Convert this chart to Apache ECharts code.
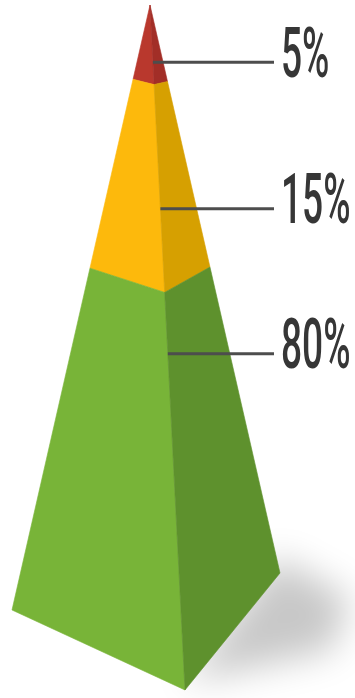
<!DOCTYPE html>
<html>
<head>
<meta charset="utf-8">
<script src="https://cdn.jsdelivr.net/npm/echarts@6/dist/echarts.min.js"></script>
<style>
html,body{margin:0;padding:0;background:#ffffff;}
#chart{width:355px;height:698px;}
</style>
</head>
<body>
<div id="chart"></div>
<script>
// ---- data ----
const tierNames = ['Top', 'Middle', 'Base'];
const tierValues = [5, 15, 80];
// where each tier ends along the pyramid's height (0 = apex, 100 = base), as drawn in the picture
const tierDepthEnd = [12.5, 44, 100];
// where each leader line meets the pyramid's front edge (same height scale)
const leaderDepth = [9, 31.5, 53];

// ---- scene / style ----
const SCENE_W = 355, SCENE_H = 698;
const apex = { x: 150, y: 5, w: 1 };
const cornerL = { x: 12, y: 610, w: 0.98 };
const cornerF = { x: 185, y: 690, w: 0.92 };
const cornerR = { x: 280, y: 573, w: 1.09 };
const faceColors = [
  ['#b9382d', '#a22e27'],
  ['#fdb90c', '#d6a001'],
  ['#78b438', '#5e912d']
];
const leaderEndX = 274;
const labelX = 281;

function pointAt(c, s) {
  const a = (1 - s) * apex.w, b = s * c.w, d = a + b;
  return [(a * apex.x + b * c.x) / d, (a * apex.y + b * c.y) / d];
}

const chart = echarts.init(document.getElementById('chart'), null, { renderer: 'canvas' });

function renderTier(params, api) {
  const i = api.value(0);
  const s0 = i === 0 ? 0 : tierDepthEnd[i - 1] / 100;
  const s1 = tierDepthEnd[i] / 100;
  const P = (c, s) => api.coord(pointAt(c, s));
  const leftFace = [P(cornerL, s0), P(cornerF, s0), P(cornerF, s1), P(cornerL, s1)];
  const rightFace = [P(cornerF, s0), P(cornerR, s0), P(cornerR, s1), P(cornerF, s1)];
  return {
    type: 'group',
    children: [
      { type: 'polygon', shape: { points: leftFace }, style: { fill: faceColors[i][0], stroke: faceColors[i][0], lineWidth: 0.6 } },
      { type: 'polygon', shape: { points: rightFace }, style: { fill: faceColors[i][1], stroke: faceColors[i][1], lineWidth: 0.6 } }
    ]
  };
}

function renderLabel(params, api) {
  const i = api.value(0);
  const v = api.value(1);
  const s = leaderDepth[i] / 100;
  const start = api.coord(pointAt(cornerF, s));
  const end = api.coord([leaderEndX, pointAt(cornerF, s)[1]]);
  const tx = api.coord([labelX, 0])[0];
  return {
    type: 'group',
    children: [
      { type: 'line', shape: { x1: start[0], y1: start[1], x2: end[0], y2: end[1] },
        style: { stroke: '#4d4d4d', lineWidth: 3 } },
      { type: 'text', x: tx, y: start[1] - 3, scaleX: 0.53,
        style: { x: 0, y: 0, text: v + '%', fontFamily: 'Roboto', fontSize: 70, fontWeight: 500,
                 fill: '#363636', align: 'left', verticalAlign: 'middle' } }
    ]
  };
}

function renderShadow(params, api) {
  const off = 1000;
  const pts = [
    pointAt(cornerF, 0.99), pointAt(cornerR, 0.97), [350, 598], [332, 650]
  ].map(p => api.coord(p)).map(p => [p[0] - off, p[1]]);
  return {
    type: 'polygon', shape: { points: pts },
    style: { fill: '#000', shadowColor: 'rgba(0,0,0,0.22)', shadowBlur: 36, shadowOffsetX: off, shadowOffsetY: 0 }
  };
}

const tierData = tierValues.map((v, i) => ({ name: tierNames[i], value: [i, v] }));

chart.setOption({
  animation: false,
  backgroundColor: '#ffffff',
  grid: { left: 0, right: 0, top: 0, bottom: 0 },
  xAxis: { type: 'value', min: 0, max: SCENE_W, show: false },
  yAxis: { type: 'value', min: 0, max: SCENE_H, inverse: true, show: false },
  series: [
    { type: 'custom', renderItem: renderShadow, data: [[0, 0]], z: 1, silent: true },
    { type: 'custom', renderItem: renderTier, data: tierData, z: 2 },
    { type: 'custom', renderItem: renderLabel, data: tierData, z: 3 }
  ]
});
</script>
</body>
</html>
